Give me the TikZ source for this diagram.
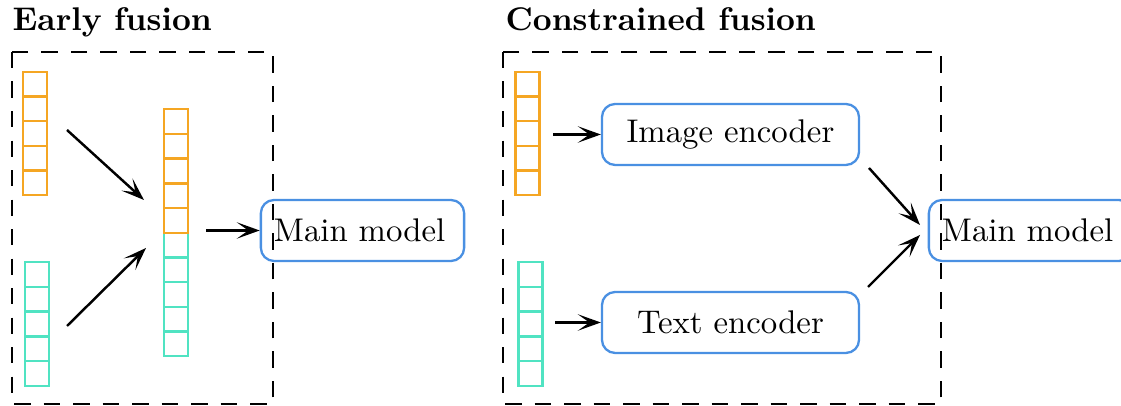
\documentclass[tikz,border=0pt]{standalone}
\usetikzlibrary{arrows.meta,positioning}
\definecolor{vecorange}{RGB}{245,166,35}
\definecolor{vecteal}{RGB}{80,227,194}
\definecolor{boxblue}{RGB}{74,144,226}

\tikzset{
  cell/.style={draw, line width=0.7pt, minimum width=7.4pt, minimum height=7.5pt, inner sep=0pt, outer sep=0pt},
  blockbox/.style={draw=boxblue, line width=0.7pt, rounded corners=4pt, minimum height=18.6pt, inner xsep=4pt},
  arr/.style={-{Stealth[length=7pt,width=5pt,inset=3.5pt]}, line width=0.75pt},
  frame/.style={dash pattern=on 5pt off 4pt, line width=0.75pt},
  title/.style={font=\bfseries, anchor=base west, inner sep=0pt},
}

\begin{document}
\begin{tikzpicture}[x=0.305pt, y=-0.305pt]
    \useasboundingbox (0,0) rectangle (1121,406);

    % Early fusion
    \node[title] (earlytitle) at (12,31) {Early fusion};
    \draw[frame] (12,52) rectangle (273,404);
    \foreach \i in {1,...,5} {
        \node[cell, draw=vecorange] (eimg-\i) at (35, 72+24.6*\i-12.3) {};
        \node[cell, draw=vecteal] (etxt-\i) at (37, 262+24.8*\i-12.4) {};
        \node[cell, draw=vecorange] (cat-\i) at (176, 109+24.8*\i-12.4) {};
        \node[cell, draw=vecteal] (cat-\the\numexpr\i+5\relax) at (176, 233+24.6*\i-12.3) {};
    }
    \node[blockbox, text width=54pt] (mainA) at (362.5,230.5) {Main model};

    \coordinate (eimgout) at (67,130);
    \coordinate (etxtout) at (67,326);
    \coordinate (catinA) at (144,200);
    \coordinate (catinB) at (146,248);
    \coordinate (catout) at (206,230.5);
    \draw[arr] (eimgout) -- (catinA);
    \draw[arr] (etxtout) -- (catinB);
    \draw[arr] (catout) -- (mainA.west);

    % Constrained fusion
    \node[title] (constrtitle) at (505,31) {Constrained fusion};
    \draw[frame] (503,52) rectangle (941,404);
    \foreach \i in {1,...,5} {
        \node[cell, draw=vecorange] (cimg-\i) at (527.5, 72+24.6*\i-12.3) {};
        \node[cell, draw=vecteal] (ctxt-\i) at (530.5, 262+24.8*\i-12.4) {};
    }
    \node[blockbox, minimum width=78.4pt] (imgenc) at (730.5,134.5) {Image encoder};
    \node[blockbox, minimum width=78.4pt] (txtenc) at (730.5,322.5) {Text encoder};
    \node[blockbox, text width=54pt] (mainB) at (1030.5,230.5) {Main model};

    \coordinate (cimgout) at (553,134.5);
    \coordinate (ctxtout) at (555,322.5);
    \coordinate (imgencout) at (869,168);
    \coordinate (txtencout) at (868,287);
    \coordinate (maininA) at (920,225);
    \coordinate (maininB) at (920,235);
    \draw[arr] (cimgout) -- (imgenc.west);
    \draw[arr] (ctxtout) -- (txtenc.west);
    \draw[arr] (imgencout) -- (maininA);
    \draw[arr] (txtencout) -- (maininB);
\end{tikzpicture}
\end{document}
